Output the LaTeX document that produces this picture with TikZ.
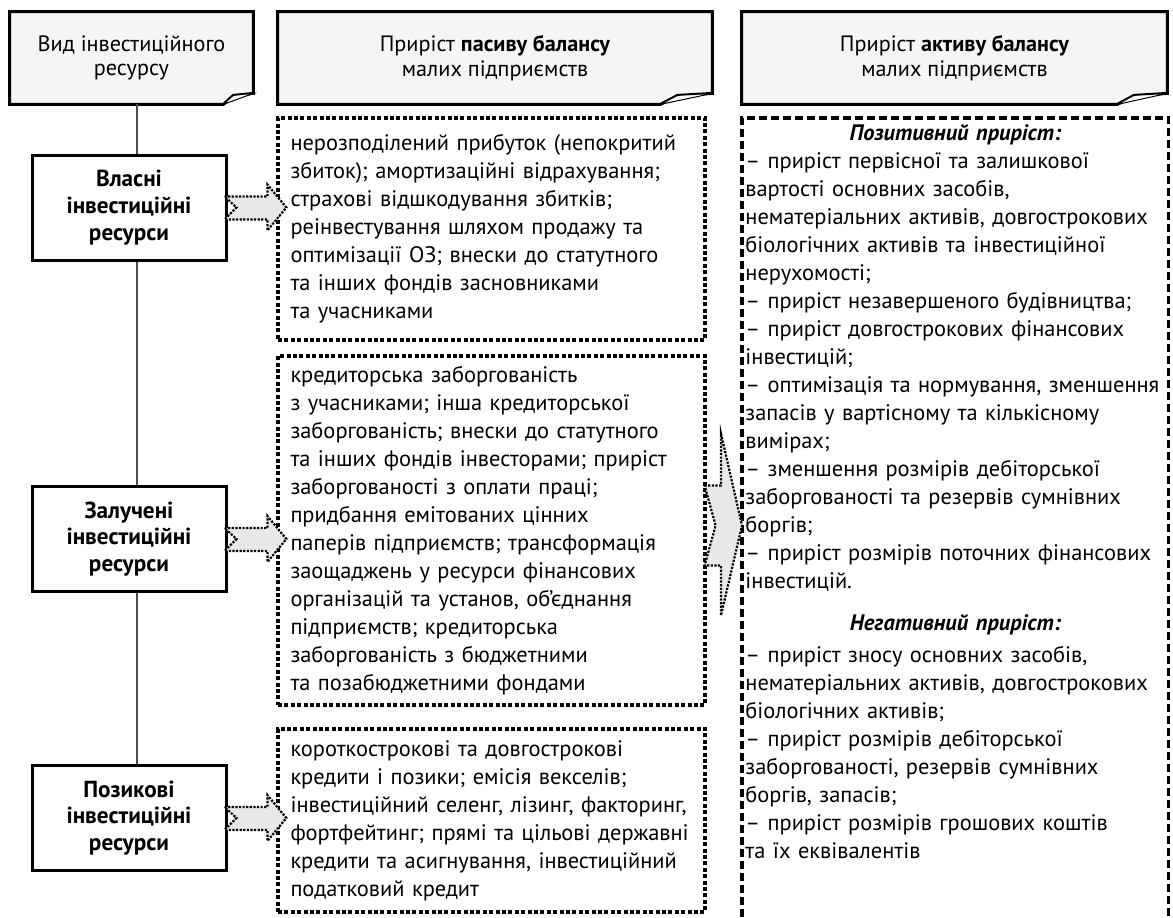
\documentclass[tikz,border=0pt]{standalone}
\usepackage{fontspec}
\setmainfont{PT Sans}
\usetikzlibrary{positioning,calc,backgrounds}

\begin{document}
\begin{tikzpicture}[
    x=0.5pt,y=-0.5pt,
    header/.style={rectangle,inner sep=0pt,minimum height=46pt,align=center,font=\fontsize{11.1}{12.2}\selectfont},
    resource/.style={rectangle,draw,line width=1.5pt,fill=white,inner sep=0pt,minimum width=97pt,minimum height=52.5pt,align=center,font=\fontsize{11.6}{13.4}\selectfont\bfseries},
    source/.style={rectangle,draw,fill=white,line width=1.6pt,dash pattern=on 2pt off 1.2pt,inner xsep=6.25pt,inner ysep=0pt,text width=201pt,align=left,font=\fontsize{11.2}{14}\selectfont},
    growth/.style={rectangle,inner xsep=1.5pt,inner ysep=3pt,text width=210pt,align=left,font=\fontsize{11.2}{14}\selectfont},
    flow/.style={draw,fill=gray!18,line width=1.1pt,dash pattern=on 1.1pt off 0.7pt},
    bigflow/.style={draw,fill=gray!18,line width=1.1pt,dash pattern=on 1.1pt off 0.7pt}
]
    \useasboundingbox (0,0) rectangle (1173,917);

    % Headers
    \node[header,minimum width=121.5pt] (hd1) at (131.5,58) {Вид інвестиційного\\ресурсу};
    \node[header,minimum width=217pt] (hd2) at (495,58) {Приріст \textbf{пасиву балансу}\\малих підприємств};
    \node[header,minimum width=212.5pt] (hd3) at (954.5,58) {Приріст \textbf{активу балансу}\\малих підприємств};

    \begin{scope}[on background layer]
    \foreach \h/\f in {hd1/30,hd2/52,hd3/50} {
        \draw[line width=1.5pt,fill=gray!8]
            (\h.north west) -- (\h.north east) -- ($(\h.south east)+(0,-11)$)
            -- ($(\h.south east)+(-0.67*\f,-9)$) -- ($(\h.south east)+(-\f,0)$)
            -- (\h.south west) -- cycle;
        \draw[line width=0.5pt,fill=gray!2]
            ($(\h.south east)+(0,-11)$) -- ($(\h.south east)+(-0.67*\f,-9)$)
            -- ($(\h.south east)+(-\f,0)$) -- cycle;
    }
    \end{scope}

    % Resources
    \draw[black!70,line width=0.75pt] ([xshift=2.75pt]hd1.south) -- ++(0,662);
    \node[resource] (own) at (129,207.5) {Власні\\інвестиційні\\ресурси};
    \node[resource] (att) at (129,539) {Залучені\\інвестиційні\\ресурси};
    \node[resource] (loan) at (129,818) {Позикові\\інвестиційні\\ресурси};

    % Liabilities
    \node[source,minimum height=111pt] (m1) at (491.5,229) {нерозподілений прибуток (непокритий\\
        збиток); амортизаційні відрахування;\\
        страхові відшкодування збитків;\\
        реінвестування шляхом продажу та\\
        оптимізації ОЗ; внески до статутного\\
        та інших фондів засновниками\\
        та учасниками};
    \node[source,minimum height=174.5pt] (m2) at (491.5,530.5) {кредиторська заборгованість\\
        з учасниками; інша кредиторської\\
        заборгованість; внески до статутного\\
        та інших фондів інвесторами; приріст\\
        заборгованості з оплати праці;\\
        придбання емітованих цінних\\
        паперів підприємств; трансформація\\
        заощаджень у ресурси фінансових\\
        організацій та установ, об’єднання\\
        підприємств; кредиторська\\
        заборгованість з бюджетними\\
        та позабюджетними фондами};
    \node[source,minimum height=91.5pt] (m3) at (491.5,820.5) {короткострокові та довгострокові\\
        кредити і позики; емісія векселів;\\
        інвестиційний селенг, лізинг, факторинг,\\
        фортфейтинг; прямі та цільові державні\\
        кредити та асигнування, інвестиційний\\
        податковий кредит};

    % Assets
    \node[growth,anchor=north west] (act) at (742,118) {\makebox[\hsize]{\bfseries\itshape Позитивний приріст:}\\
        – приріст первісної та залишкової\\
        вартості основних засобів,\\
        нематеріальних активів, довгострокових\\
        біологічних активів та інвестиційної\\
        нерухомості;\\
        – приріст незавершеного будівництва;\\
        – приріст довгострокових фінансових\\
        інвестицій;\\
        – оптимізація та нормування, зменшення\\
        запасів у вартісному та кількісному\\
        вимірах;\\
        – зменшення розмірів дебіторської\\
        заборгованості та резервів сумнівних\\
        боргів;\\
        – приріст розмірів поточних фінансових\\
        інвестицій.\\[7pt]
        \makebox[\hsize]{\bfseries\itshape Негативний приріст:}\\[2pt]
        – приріст зносу основних засобів,\\
        нематеріальних активів, довгострокових\\
        біологічних активів;\\
        – приріст розмірів дебіторської\\
        заборгованості, резервів сумнівних\\
        боргів, запасів;\\
        – приріст розмірів грошових коштів\\
        та їх еквівалентів};
    \coordinate (bot) at (0,917);
    \draw[line width=1.6pt,dash pattern=on 4pt off 2pt]
        (act.north west |- bot) -- (act.north west) -- (act.north east) -- (act.north east |- bot);

    % Arrows
    \foreach \s/\t in {own/m1,att/m2,loan/m3} {
        \coordinate (tl) at ($(\s.east)+(-3,0)$);
        \coordinate (tp) at ($(\t.west |- \s.east)+(10,0)$);
        \draw[flow] ($(tl)+(0,-11)$) -- ($(tp)+(-19,-11)$) -- ($(tp)+(-19,-23)$) -- (tp)
            -- ($(tp)+(-19,23)$) -- ($(tp)+(-19,12)$) -- ($(tl)+(0,12)$) -- ($(tl)+(12,0)$) -- cycle;
    }
    \coordinate (bl) at ($(m2.east)+(-2,-5)$);
    \coordinate (bp) at (act.west |- bl);
    \draw[bigflow] ($(bl)+(0,-40)$) -- ($(bp)+(-21,-40)$) -- ($(bp)+(-21,-92)$) -- (bp)
        -- ($(bp)+(-21,90)$) -- ($(bp)+(-21,40)$) -- ($(bl)+(0,40)$) -- ($(bl)+(11,0)$) -- cycle;
\end{tikzpicture}
\end{document}
